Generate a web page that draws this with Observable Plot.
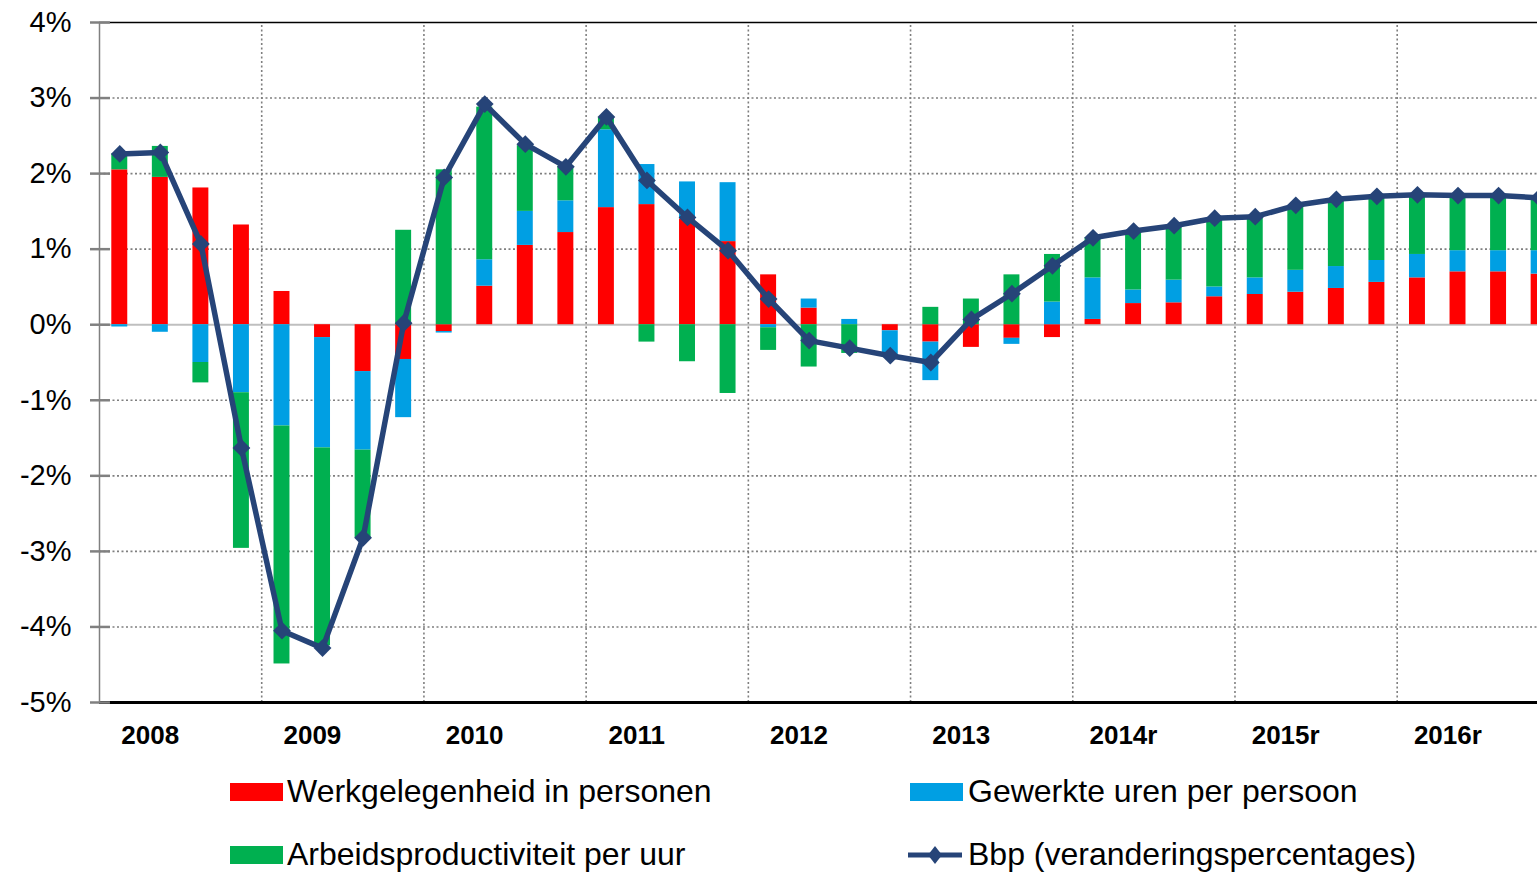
<!DOCTYPE html>
<html>
<head>
<meta charset="utf-8">
<script src="https://cdn.jsdelivr.net/npm/d3@7"></script>
<script src="https://cdn.jsdelivr.net/npm/@observablehq/plot@0.6"></script>
<style>
  html, body { margin: 0; padding: 0; background: #fff; overflow: hidden; }
  body { width: 1537px; height: 872px; position: relative; font-family: "Liberation Sans", Arial, sans-serif; }
  #chart { position: absolute; left: 0; top: 0; }
  .lg { position: absolute; font-size: 32px; line-height: 32px; color: #000; white-space: nowrap; }
  .sw { position: absolute; width: 53px; height: 18px; }
</style>
</head>
<body>
<div id="chart"></div>
<div class="sw" style="left:230px;top:783px;background:#FF0000"></div>
<div class="lg" style="left:287px;top:775px">Werkgelegenheid in personen</div>
<div class="sw" style="left:910px;top:783px;background:#009FE3"></div>
<div class="lg" style="left:968px;top:775px">Gewerkte uren per persoon</div>
<div class="sw" style="left:230px;top:846px;background:#00B050"></div>
<div class="lg" style="left:287px;top:838px">Arbeidsproductiviteit per uur</div>
<svg style="position:absolute;left:906px;top:843px" width="58" height="24">
  <line x1="2" y1="12" x2="56" y2="12" stroke="#264478" stroke-width="5"/>
  <path d="M29,3 L36,12 L29,21 L22,12 Z" fill="#264478"/>
</svg>
<div class="lg" style="left:968px;top:838px">Bbp (veranderingspercentages)</div>
<script>
// Year labels (one per year, 4 quarters each)
const yearLabels = ["2008","2009","2010","2011","2012","2013","2014r","2015r","2016r"];
const quarterLabels = yearLabels.flatMap(y => ["K1","K2","K3","K4"].map(q => y + " " + q));

// Series values (% change), quarterly 2008 K1 .. 2016 K4
const werkgelegenheid = [
  2.05, 1.95, 1.81, 1.32,
  0.44, -0.17, -0.62, -0.46,
  -0.09, 0.51, 1.05, 1.22,
  1.55, 1.59, 1.40, 1.10,
  0.66, 0.22, 0.00, -0.08,
  -0.23, -0.30, -0.18, -0.17,
  0.07, 0.28, 0.29, 0.37,
  0.40, 0.43, 0.48, 0.56,
  0.62, 0.70, 0.70, 0.67
];
const gewerkteUren = [
  -0.03, -0.10, -0.50, -0.90,
  -1.34, -1.46, -1.04, -0.77,
  -0.02, 0.35, 0.45, 0.42,
  1.03, 0.53, 0.49, 0.78,
  -0.04, 0.12, 0.07, -0.33,
  -0.51, 0.00, -0.08, 0.30,
  0.55, 0.18, 0.30, 0.13,
  0.22, 0.29, 0.29, 0.29,
  0.31, 0.28, 0.28, 0.31
];
const arbeidsproductiviteit = [
  0.21, 0.41, -0.27, -2.06,
  -3.15, -2.62, -1.16, 1.25,
  2.05, 2.02, 0.87, 0.46,
  0.16, -0.23, -0.49, -0.91,
  -0.30, -0.56, -0.38, 0.00,
  0.23, 0.34, 0.66, 0.63,
  0.53, 0.78, 0.71, 0.90,
  0.80, 0.85, 0.88, 0.84,
  0.76, 0.72, 0.72, 0.68
];
const bbp = [
  2.26, 2.28, 1.07, -1.63,
  -4.05, -4.28, -2.82, 0.02,
  1.95, 2.92, 2.39, 2.09,
  2.75, 1.91, 1.42, 0.98,
  0.34, -0.21, -0.31, -0.41,
  -0.50, 0.07, 0.41, 0.78,
  1.15, 1.24, 1.31, 1.41,
  1.43, 1.58, 1.66, 1.70,
  1.72, 1.71, 1.71, 1.68
];
const yTicks = [4, 3, 2, 1, 0, -1, -2, -3, -4, -5];

const seriesList = [
  {name: "Werkgelegenheid in personen", values: werkgelegenheid, color: "#FF0000"},
  {name: "Gewerkte uren per persoon", values: gewerkteUren, color: "#009FE3"},
  {name: "Arbeidsproductiviteit per uur", values: arbeidsproductiviteit, color: "#00B050"}
];

// Stack positives upward and negatives downward, in series order (like Excel)
const rects = [];
quarterLabels.forEach((q, i) => {
  let pos = 0, neg = 0;
  for (const s of seriesList) {
    const v = s.values[i];
    if (v >= 0) { rects.push({q, x1: i, x2: i + 1, y1: pos, y2: pos + v, fill: s.color}); pos += v; }
    else { rects.push({q, x1: i, x2: i + 1, y1: neg, y2: neg + v, fill: s.color}); neg += v; }
  }
});
const gdpRows = bbp.map((v, i) => ({q: quarterLabels[i], x: i + 0.5, v}));
const yearRows = yearLabels.map((label, k) => ({label, x: k * 4 + 1.25}));
const yearBounds = yearLabels.slice(1).map((_, k) => (k + 1) * 4);
const gridYs = yTicks.filter(t => t !== 0 && t !== 4 && t !== -5);

const chart = Plot.plot({
  width: 1537,
  height: 760,
  marginLeft: 99,
  marginRight: 0,
  marginTop: 22,
  marginBottom: 58,
  x: {domain: [0, 35.46], axis: null},
  y: {domain: [-5, 4], axis: null},
  style: {fontFamily: "'Liberation Sans', Arial, sans-serif", background: "#fff", color: "#000"},
  marks: [
    Plot.ruleY(gridYs, {stroke: "#7f7f7f", strokeWidth: 1.6, strokeDasharray: "2,2.5"}),
    Plot.ruleX(yearBounds, {y1: -5, y2: 4, stroke: "#7f7f7f", strokeWidth: 1.6, strokeDasharray: "2,2.5"}),
    Plot.ruleY([0], {stroke: "#BFBFBF", strokeWidth: 2}),
    Plot.rect(rects, {x1: "x1", x2: "x2", y1: "y1", y2: "y2", fill: "fill", insetLeft: 12.3, insetRight: 12.3}),
    Plot.ruleY([4], {stroke: "#000", strokeWidth: 1.5}),
    Plot.ruleY([-5], {stroke: "#000", strokeWidth: 3}),
    Plot.ruleX([0], {y1: -5, y2: 4, stroke: "#808080", strokeWidth: 1.5}),
    Plot.ruleY(yTicks, {x1: 0, x2: 0.27, stroke: "#808080", strokeWidth: 2.5}),
    Plot.axisY({ticks: yTicks, tickFormat: d => d + "%", tickSize: 9, tickPadding: 19, fontSize: 29, stroke: "#808080", strokeWidth: 2.5, fill: "#000"}),
    Plot.line(gdpRows, {x: "x", y: "v", stroke: "#264478", strokeWidth: 5.5}),
    Plot.dot(gdpRows, {x: "x", y: "v", symbol: "diamond2", r: 8, fill: "#264478", stroke: "none"}),
    Plot.text(yearRows, {x: "x", y: -5, text: "label", dy: 33, fontSize: 26, fontWeight: "bold", fill: "#000"})
  ]
});
document.getElementById("chart").appendChild(chart);
</script>
</body>
</html>
